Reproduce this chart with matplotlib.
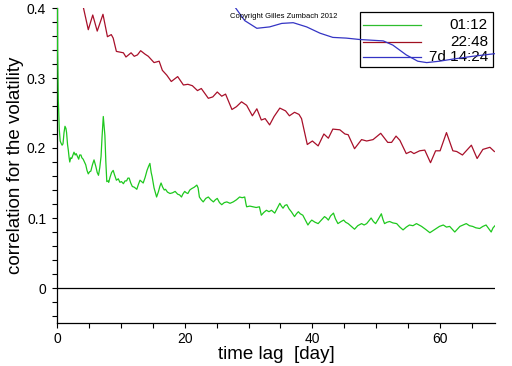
import matplotlib
matplotlib.use("Agg")
import matplotlib.pyplot as plt
from matplotlib.ticker import MultipleLocator
from matplotlib.lines import Line2D
from matplotlib.patches import Rectangle

plt.rcParams['font.family'] = ['Liberation Sans', 'DejaVu Sans']

green_x = [0.0, 0.1, 0.2, 0.36, 0.5, 0.63, 0.8, 0.94, 1.1, 1.25, 1.4, 1.5, 1.65, 1.77, 1.9, 2.0, 2.15, 2.3, 2.5, 2.66,
           2.85, 3.0, 3.2, 3.4, 3.55, 3.75, 3.9, 4.1, 4.3, 4.5, 4.7, 4.9, 5.1, 5.3, 5.55, 5.8, 5.95, 6.1, 6.3, 6.5,
           6.7, 6.9, 7.05, 7.25, 7.4, 7.5, 7.65, 7.8, 8.0, 8.1, 8.3, 8.55, 8.8, 9.0, 9.3, 9.6, 9.85, 10.1, 10.4, 10.65,
           10.9, 11.1, 11.3, 11.55, 11.8, 12.1, 12.5, 12.75, 13.0, 13.25, 13.5, 13.8, 14.1, 14.35, 14.55, 14.75, 14.9, 15.2, 15.6, 15.9,
           16.1, 16.3, 16.55, 16.8, 17.0, 17.3, 17.7, 18.1, 18.5, 18.9, 19.2, 19.5, 19.7, 20.0, 20.25, 20.5, 20.8, 21.1, 21.5, 21.9,
           22.1, 22.3, 22.6, 22.9, 23.3, 23.7, 24.1, 24.5, 24.8, 25.1, 25.45, 25.8, 26.2, 26.6, 27.1, 27.6, 28.1, 28.6, 29.0, 29.4,
           29.6, 29.7, 30.2, 30.7, 31.2, 31.7, 32.0, 32.4, 32.8, 33.2, 33.6, 34.1, 34.5, 34.9, 35.15, 35.4, 35.7, 36.0, 36.35, 36.7,
           37.2, 37.5, 37.8, 38.1, 38.5, 38.9, 39.3, 39.6, 39.9, 40.4, 40.9, 41.4, 41.9, 42.2, 42.5, 42.85, 43.3, 43.6, 44.0, 44.5,
           44.9, 45.2, 45.6, 46.1, 46.6, 47.1, 47.7, 48.1, 48.5, 48.85, 49.2, 49.55, 49.9, 50.3, 50.8, 51.05, 51.3, 51.7, 52.1, 52.6,
           53.2, 53.7, 54.2, 54.7, 55.2, 55.75, 56.3, 56.7, 57.1, 57.7, 58.4, 58.9, 59.4, 59.9, 60.5, 61.0, 61.5, 61.9, 62.3, 62.7,
           63.1, 63.6, 64.1, 64.6, 65.1, 65.6, 66.2, 66.7, 67.2, 67.6, 68.0, 68.3, 68.6]
green_y = [0.62, 0.34, 0.27, 0.226, 0.21, 0.207, 0.204, 0.206, 0.222, 0.231, 0.228, 0.222, 0.205, 0.197, 0.186, 0.180, 0.186, 0.185, 0.19, 0.194,
           0.19, 0.192, 0.188, 0.184, 0.19, 0.19, 0.186, 0.184, 0.18, 0.176, 0.168, 0.163, 0.166, 0.167, 0.176, 0.183, 0.178, 0.173, 0.165, 0.161,
           0.172, 0.188, 0.215, 0.245, 0.228, 0.218, 0.18, 0.152, 0.153, 0.151, 0.158, 0.165, 0.168, 0.162, 0.154, 0.156, 0.151, 0.152, 0.149, 0.153,
           0.153, 0.157, 0.157, 0.15, 0.145, 0.144, 0.141, 0.148, 0.154, 0.152, 0.150, 0.158, 0.168, 0.174, 0.178, 0.165, 0.159, 0.143, 0.130, 0.138,
           0.145, 0.150, 0.144, 0.140, 0.141, 0.137, 0.135, 0.136, 0.138, 0.134, 0.133, 0.13, 0.134, 0.138, 0.136, 0.135, 0.14, 0.142, 0.144, 0.147,
           0.143, 0.13, 0.126, 0.123, 0.128, 0.130, 0.126, 0.123, 0.126, 0.128, 0.122, 0.119, 0.122, 0.123, 0.121, 0.123, 0.126, 0.130, 0.129, 0.130,
           0.12, 0.116, 0.117, 0.116, 0.115, 0.116, 0.104, 0.108, 0.111, 0.109, 0.111, 0.107, 0.114, 0.121, 0.117, 0.114, 0.118, 0.119, 0.113, 0.109,
           0.102, 0.106, 0.109, 0.106, 0.104, 0.097, 0.09, 0.094, 0.097, 0.094, 0.092, 0.097, 0.102, 0.1, 0.097, 0.103, 0.107, 0.099, 0.092, 0.095,
           0.097, 0.094, 0.092, 0.088, 0.084, 0.089, 0.092, 0.09, 0.092, 0.096, 0.1, 0.095, 0.092, 0.098, 0.106, 0.098, 0.092, 0.094, 0.095, 0.093,
           0.092, 0.087, 0.083, 0.087, 0.09, 0.089, 0.092, 0.09, 0.088, 0.084, 0.079, 0.082, 0.085, 0.088, 0.09, 0.087, 0.088, 0.084, 0.08, 0.084,
           0.088, 0.09, 0.092, 0.089, 0.088, 0.086, 0.085, 0.088, 0.09, 0.085, 0.08, 0.086, 0.089]

red_x = [4.1, 4.9, 5.6, 6.3, 7.2, 7.9, 8.5, 8.8, 9.3, 10.4, 10.8, 11.6, 12.1, 12.6, 13.1, 13.8, 14.3, 14.8, 15.2, 16.0,
         16.5, 17.2, 17.9, 18.9, 19.8, 20.5, 21.2, 22.0, 22.6, 23.7, 24.4, 25.1, 25.8, 26.4, 27.4, 28.1, 28.9, 29.7, 30.6, 31.3,
         32.0, 32.6, 33.3, 34.0, 34.9, 35.8, 36.4, 37.2, 37.9, 38.3, 39.2, 40.0, 40.9, 41.8, 42.5, 43.2, 44.3, 45.1, 45.6, 46.6,
         47.7, 48.5, 49.5, 50.7, 51.8, 52.4, 53.1, 53.7, 54.7, 55.4, 55.9, 56.8, 57.6, 58.5, 59.3, 60.0, 61.0, 62.0, 62.6, 63.5,
         64.9, 65.8, 66.7, 67.8, 68.5]
red_y = [0.402, 0.369, 0.390, 0.367, 0.391, 0.359, 0.362, 0.357, 0.338, 0.336, 0.330, 0.336, 0.331, 0.333, 0.339, 0.334, 0.331, 0.326, 0.322, 0.324,
         0.311, 0.304, 0.295, 0.302, 0.290, 0.291, 0.289, 0.282, 0.285, 0.271, 0.273, 0.280, 0.274, 0.277, 0.255, 0.259, 0.266, 0.261, 0.246, 0.256,
         0.240, 0.242, 0.233, 0.245, 0.257, 0.253, 0.246, 0.251, 0.248, 0.242, 0.205, 0.210, 0.203, 0.220, 0.214, 0.227, 0.226, 0.220, 0.219, 0.199,
         0.212, 0.210, 0.212, 0.221, 0.208, 0.208, 0.217, 0.211, 0.192, 0.195, 0.192, 0.196, 0.197, 0.179, 0.196, 0.196, 0.222, 0.196, 0.195, 0.190,
         0.204, 0.185, 0.198, 0.201, 0.195]

blue_x = [27.3, 27.9, 29.4, 31.3, 33.3, 35.2, 37.0, 39.1, 41.2, 43.2, 45.3, 47.4, 51.1, 52.6, 54.7, 56.5, 57.9, 59.9, 62.0, 65.1, 68.8]
blue_y = [0.41, 0.401, 0.382, 0.371, 0.373, 0.378, 0.379, 0.373, 0.364, 0.358, 0.357, 0.355, 0.353, 0.347, 0.333, 0.324, 0.322, 0.324, 0.327, 0.331, 0.335]

legend_labels = ["01:12", "22:48", "7d 14:24"]
colors = ["#1ec81e", "#a8102a", "#3434c4"]
legend_colors = ["#2ebd2e", "#a01020", "#3434c4"]

fig = plt.figure(figsize=(5.12, 3.66), dpi=100)
ax = fig.add_axes([57/512, 1-323/366, (495-57)/512, (323-8)/366])

ax.axhline(0, color='black', lw=0.9, zorder=2)
ax.plot(green_x, green_y, color=colors[0], lw=0.9, zorder=3)
ax.plot(red_x, red_y, color=colors[1], lw=0.9, zorder=3)
ax.plot(blue_x, blue_y, color=colors[2], lw=0.9, zorder=3)

ax.set_xlim(0, 68.6)
ax.set_ylim(-0.05, 0.4)
for s in ['top', 'right']:
    ax.spines[s].set_visible(False)
for s in ['left', 'bottom']:
    ax.spines[s].set_linewidth(0.9)
ax.xaxis.set_major_locator(MultipleLocator(20))
ax.xaxis.set_minor_locator(MultipleLocator(5))
ax.yaxis.set_major_locator(MultipleLocator(0.1))
ax.yaxis.set_minor_locator(MultipleLocator(0.02))
ax.yaxis.set_major_formatter(matplotlib.ticker.FuncFormatter(lambda v, p: "0" if abs(v) < 1e-9 else f"{v:.1f}"))
ax.tick_params(which='both', direction='out', length=3.8, width=0.8, labelsize=10, colors='black')
ax.tick_params(axis='y', pad=4)
ax.tick_params(axis='x', pad=3)

ax.set_xlabel("time lag  [day]", fontsize=13.5, labelpad=0)
ax.set_ylabel("correlation for the volatility", fontsize=13.5, labelpad=2)

# legend box (drawn beneath the curves)
W, H = 512, 366
box = Rectangle((360/W, 1-67/H), (493-360)/W, (67-12)/H, transform=fig.transFigure,
                facecolor='none', edgecolor='black', lw=0.9, zorder=1)
box.set_clip_on(False)
ax.add_artist(box)
rows = [25, 42, 57]
for lab, c, yy in zip(legend_labels, legend_colors, rows):
    ln = Line2D([363/W, 421/W], [1-yy/H, 1-yy/H], transform=fig.transFigure, color=c, lw=0.9, zorder=1)
    ln.set_clip_on(False)
    ax.add_artist(ln)
    ax.text(488/W, 1-yy/H, lab, transform=fig.transFigure, ha='right', va='center', fontsize=11, zorder=1)

fig.text(230/W, 1-16/H, "Copyright Gilles Zumbach 2012", fontsize=5.5, ha='left', va='center')

fig.savefig("out.png", dpi=100)
